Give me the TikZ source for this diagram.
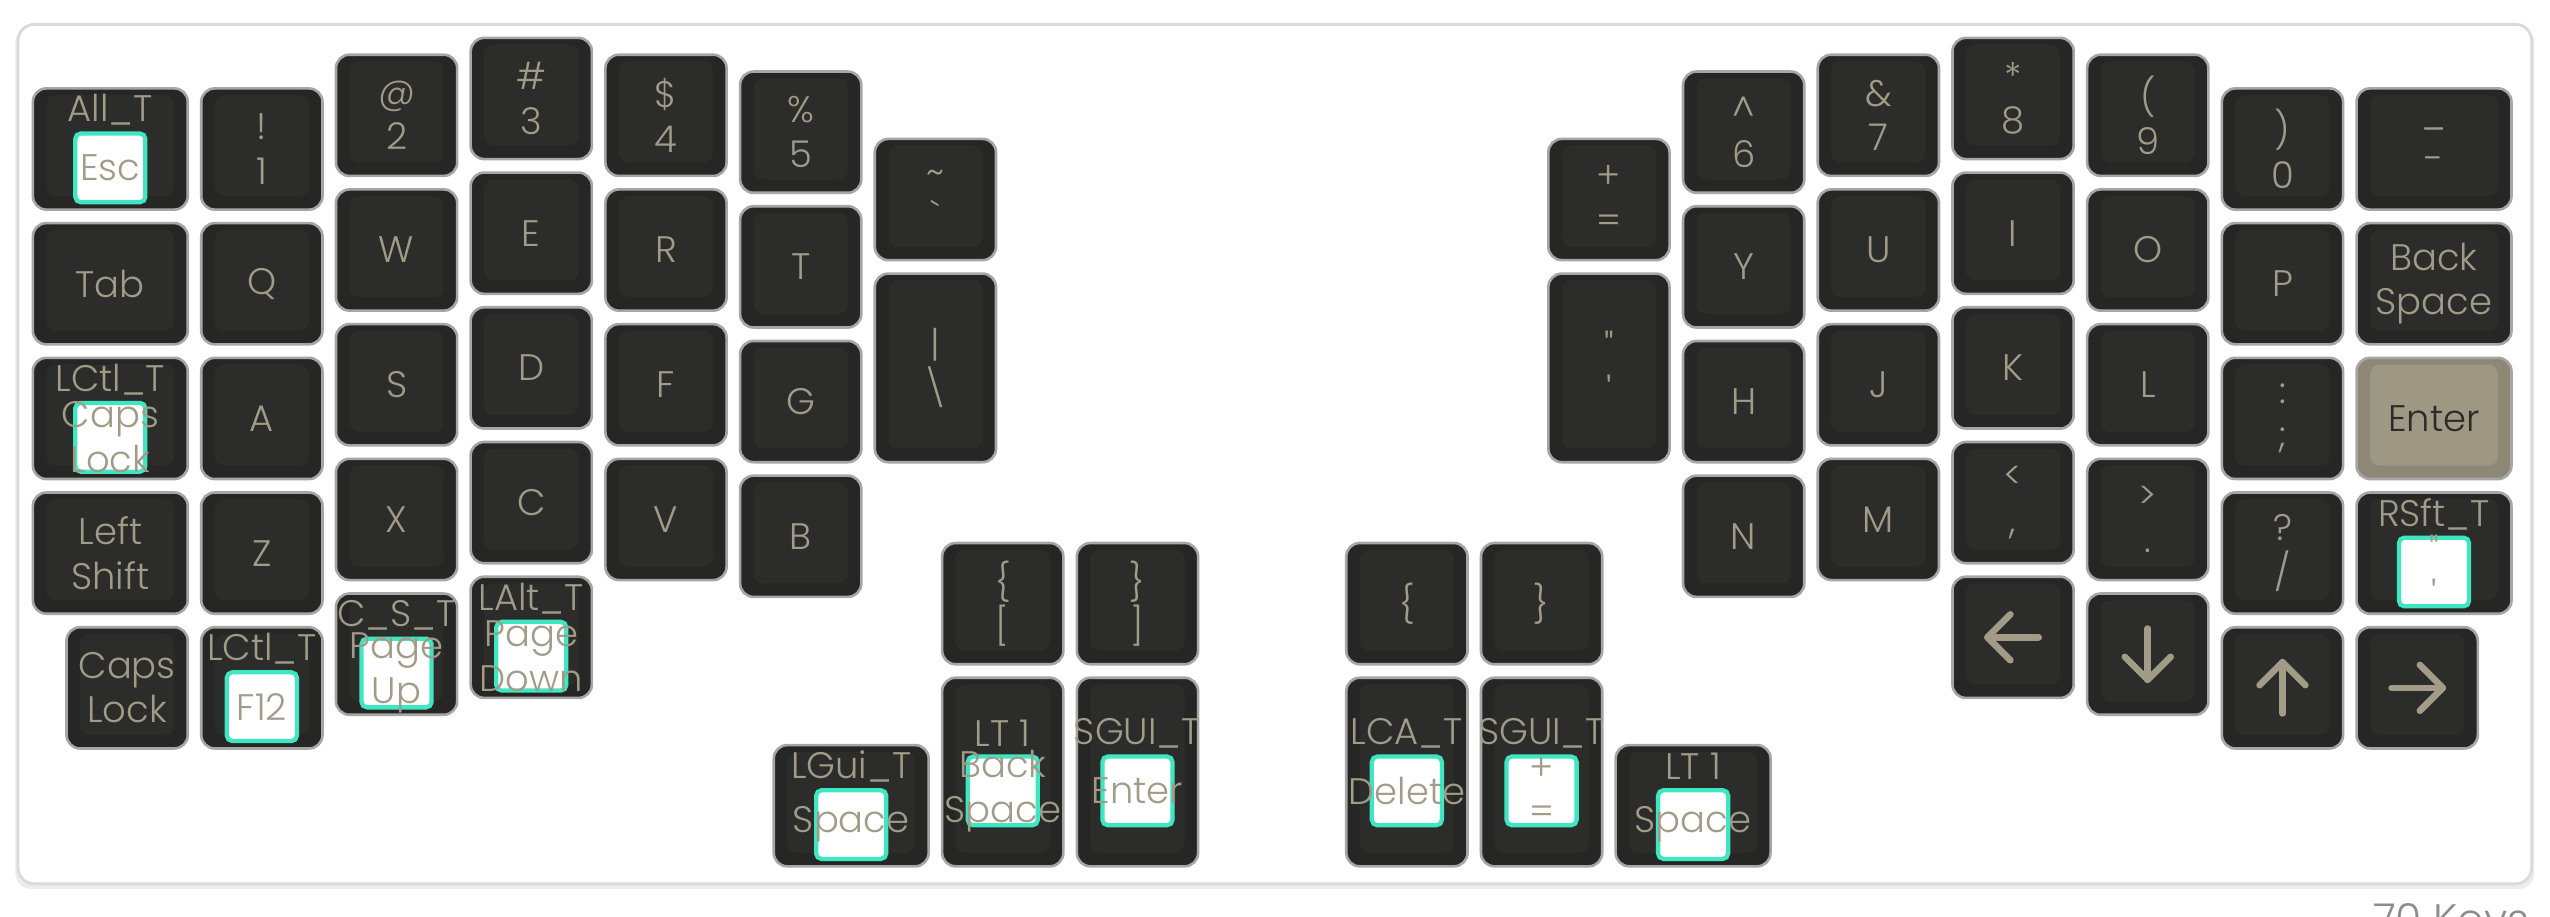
\documentclass[tikz,border=0pt]{standalone}
\usepackage{fontspec}
\usepackage{tikz}

\IfFontExistsTF{Poppins Light}{\newfontfamily\keyfont{Poppins Light}}{\newfontfamily\keyfont{Poppins}}
\newcommand\legendfont{\keyfont\fontsize{7.8}{9.4}\selectfont}

\definecolor{keyside}{HTML}{262725}
\definecolor{keytopclr}{HTML}{2C2D2B}
\definecolor{keyrim}{HTML}{A6A6A6}
\definecolor{legend}{HTML}{A19B87}
\definecolor{hlside}{HTML}{8D8876}
\definecolor{hltop}{HTML}{9D9784}
\definecolor{hldark}{HTML}{2A2B29}
\definecolor{tapteal}{HTML}{3FE6C2}
\definecolor{cardline}{HTML}{DADADA}
\definecolor{cardshade}{HTML}{EDEDED}
\definecolor{countgrey}{HTML}{8C8C8C}

\tikzset{
  keycap/.style={draw=keyrim, fill=keyside, line width=0.55pt, rounded corners=0.1cm,
    inner sep=0pt, text=legend, font=\legendfont, align=center,
    path picture={\fill[keytopclr, rounded corners=0.07cm]
      ([shift={(0.1,-0.05)}]path picture bounding box.north west) rectangle
      ([shift={(-0.1,0.1)}]path picture bounding box.south east);}},
  keyhl/.style={keycap, fill=hlside, text=hldark,
    path picture={\fill[hltop, rounded corners=0.07cm]
      ([shift={(0.1,-0.05)}]path picture bounding box.north west) rectangle
      ([shift={(-0.1,0.1)}]path picture bounding box.south east);}},
  tapbox/.style={draw=tapteal, fill=white, line width=0.9pt, rounded corners=0.04cm,
    minimum width=0.52cm, minimum height=0.51cm, inner sep=0pt},
  legendtext/.style={text=legend, font=\legendfont, align=center, inner sep=0pt},
  arrowline/.style={draw=legend, line width=1.4pt, line cap=round, line join=round},
  card/.style={draw=cardline, fill=white, line width=0.6pt, rounded corners=0.12cm}
}

% [style] name, x, y, w, h, legend
\newcommand\keycap[7][keycap]{%
  \node[#1, minimum width={(#5-0.1)*1cm}, minimum height={(#6-0.1)*1cm}] (#2) at ({#3+#5/2},{-#4-#6/2}) {#7};}
% name, x, y, w, h, hold, tap
\newcommand\holdtap[7]{%
  \keycap{#1}{#2}{#3}{#4}{#5}{}
  \node[tapbox] (#1-box) at ([yshift=-0.14cm]#1.center) {};
  \node[legendtext] (#1-tap) at (#1-box.center) {#7};
  \node[legendtext] (#1-hold) at ([yshift=0.29cm]#1.center) {#6};}
% name, angle
\newcommand\arrowglyph[2]{%
  \begin{scope}[shift={(#1.center)}, rotate=#2]
    \draw[arrowline] (0.19,0) -- (-0.19,0);
    \draw[arrowline] (-0.02,0.17) -- (-0.19,0) -- (-0.02,-0.17);
  \end{scope}}

\begin{document}
\begin{tikzpicture}

\useasboundingbox (-0.194,0.231) rectangle (18.736,-6.569);

\fill[cardshade, rounded corners=0.12cm] (-0.08,0.03) rectangle (18.62,-6.37);
\draw[card] (-0.06,0.05) rectangle (18.6,-6.33);

% left half
\holdtap{kEsc}{0}{0.375}{1.25}{1}{All\_T}{Esc}
\keycap{kOne}{1.25}{0.375}{1}{1}{!\\1}
\keycap{kTwo}{2.25}{0.125}{1}{1}{@\\2}
\keycap{kThree}{3.25}{0}{1}{1}{\#\\3}
\keycap{kFour}{4.25}{0.125}{1}{1}{\$\\4}
\keycap{kFive}{5.25}{0.25}{1}{1}{\%\\5}
\keycap{kGrave}{6.25}{0.75}{1}{1}{\string~\\`}

\keycap{kTab}{0}{1.375}{1.25}{1}{Tab}
\keycap{kQ}{1.25}{1.375}{1}{1}{Q}
\keycap{kW}{2.25}{1.125}{1}{1}{W}
\keycap{kE}{3.25}{1}{1}{1}{E}
\keycap{kR}{4.25}{1.125}{1}{1}{R}
\keycap{kT}{5.25}{1.25}{1}{1}{T}
\keycap{kPipe}{6.25}{1.75}{1}{1.5}{|\\\textbackslash}

\holdtap{kCaps}{0}{2.375}{1.25}{1}{LCtl\_T}{Caps\\Lock}
\keycap{kA}{1.25}{2.375}{1}{1}{A}
\keycap{kS}{2.25}{2.125}{1}{1}{S}
\keycap{kD}{3.25}{2}{1}{1}{D}
\keycap{kF}{4.25}{2.125}{1}{1}{F}
\keycap{kG}{5.25}{2.25}{1}{1}{G}

\keycap{kLShift}{0}{3.375}{1.25}{1}{Left\\Shift}
\keycap{kZ}{1.25}{3.375}{1}{1}{Z}
\keycap{kX}{2.25}{3.125}{1}{1}{X}
\keycap{kC}{3.25}{3}{1}{1}{C}
\keycap{kV}{4.25}{3.125}{1}{1}{V}
\keycap{kB}{5.25}{3.25}{1}{1}{B}

\keycap{kCapsLock}{0.25}{4.375}{1}{1}{Caps\\Lock}
\holdtap{kFTwelve}{1.25}{4.375}{1}{1}{LCtl\_T}{F12}
\holdtap{kPgUp}{2.25}{4.125}{1}{1}{C\_S\_T}{Page\\Up}
\holdtap{kPgDn}{3.25}{4}{1}{1}{LAlt\_T}{Page\\Down}

% left thumbs
\keycap{kLBracket}{6.75}{3.75}{1}{1}{\{\\{[}}
\keycap{kRBracket}{7.75}{3.75}{1}{1}{\}\\]}
\holdtap{kLSpace}{5.5}{5.25}{1.25}{1}{LGui\_T}{Space}
\holdtap{kBspc}{6.75}{4.75}{1}{1.5}{LT 1}{Back\\Space}
\holdtap{kLEnter}{7.75}{4.75}{1}{1.5}{SGUI\_T}{Enter}

% right half
\keycap{kEqual}{11.25}{0.75}{1}{1}{+\\=}
\keycap{kQuote}{11.25}{1.75}{1}{1.5}{"\\'}
\keycap{kSix}{12.25}{0.25}{1}{1}{\string^\\6}
\keycap{kSeven}{13.25}{0.125}{1}{1}{\&\\7}
\keycap{kEight}{14.25}{0}{1}{1}{*\\8}
\keycap{kNine}{15.25}{0.125}{1}{1}{(\\9}
\keycap{kZero}{16.25}{0.375}{1}{1}{)\\0}
\keycap{kMinus}{17.25}{0.375}{1.25}{1}{\_\\-}

\keycap{kY}{12.25}{1.25}{1}{1}{Y}
\keycap{kU}{13.25}{1.125}{1}{1}{U}
\keycap{kI}{14.25}{1}{1}{1}{I}
\keycap{kO}{15.25}{1.125}{1}{1}{O}
\keycap{kP}{16.25}{1.375}{1}{1}{P}
\keycap{kBackSpace}{17.25}{1.375}{1.25}{1}{Back\\Space}

\keycap{kH}{12.25}{2.25}{1}{1}{H}
\keycap{kJ}{13.25}{2.125}{1}{1}{J}
\keycap{kK}{14.25}{2}{1}{1}{K}
\keycap{kL}{15.25}{2.125}{1}{1}{L}
\keycap{kSemi}{16.25}{2.375}{1}{1}{:\\;}
\keycap[keyhl]{kEnter}{17.25}{2.375}{1.25}{1}{Enter}

\keycap{kN}{12.25}{3.25}{1}{1}{N}
\keycap{kM}{13.25}{3.125}{1}{1}{M}
\keycap{kComma}{14.25}{3}{1}{1}{<\\,}
\keycap{kDot}{15.25}{3.125}{1}{1}{>\\.}
\keycap{kSlash}{16.25}{3.375}{1}{1}{?\\/}
\holdtap{kRShift}{17.25}{3.375}{1.25}{1}{RSft\_T}{"\\'}

\keycap{kLeft}{14.25}{4}{1}{1}{}
\keycap{kDown}{15.25}{4.125}{1}{1}{}
\keycap{kUp}{16.25}{4.375}{1}{1}{}
\keycap{kRight}{17.25}{4.375}{1}{1}{}
\arrowglyph{kLeft}{0}
\arrowglyph{kDown}{90}
\arrowglyph{kUp}{-90}
\arrowglyph{kRight}{180}

% right thumbs
\keycap{kLCurly}{9.75}{3.75}{1}{1}{\{}
\keycap{kRCurly}{10.75}{3.75}{1}{1}{\}}
\holdtap{kDel}{9.75}{4.75}{1}{1.5}{LCA\_T}{Delete}
\holdtap{kPlus}{10.75}{4.75}{1}{1.5}{SGUI\_T}{+\\=}
\holdtap{kRSpace}{11.75}{5.25}{1.25}{1}{LT 1}{Space}

\node[text=countgrey, font=\keyfont\fontsize{9}{11}\selectfont, inner sep=0pt, anchor=north east] (keycount) at (18.59,-6.47) {70 Keys};

\end{tikzpicture}
\end{document}
